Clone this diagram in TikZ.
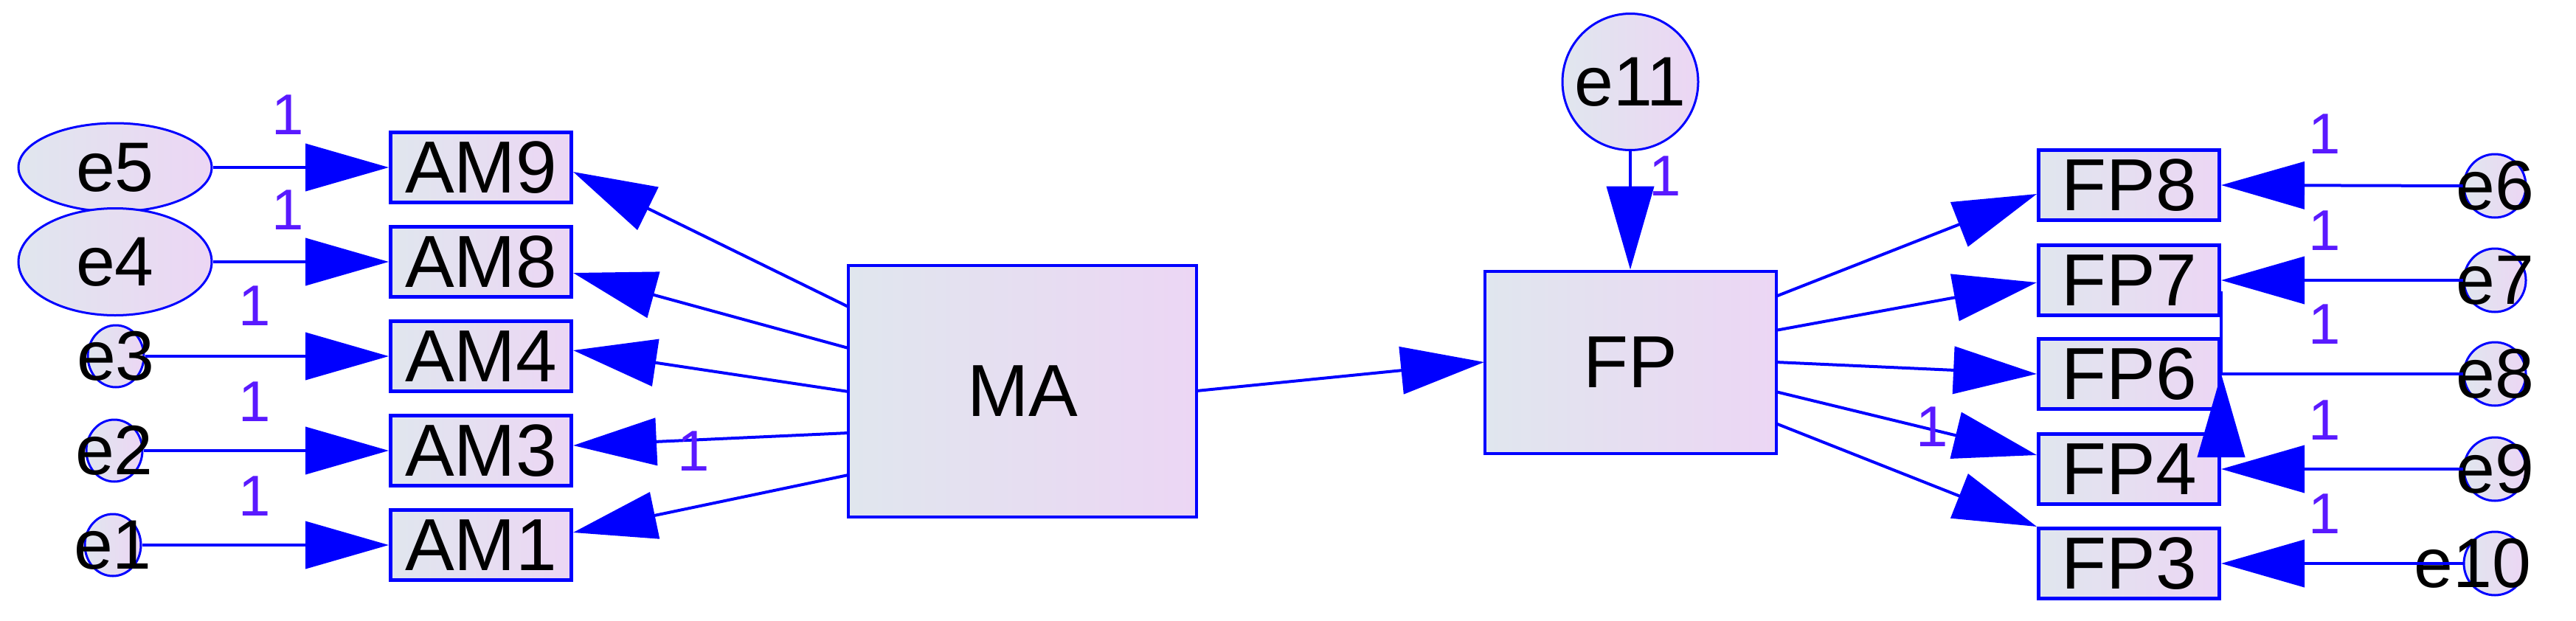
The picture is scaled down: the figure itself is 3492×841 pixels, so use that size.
\documentclass[tikz,border=0pt]{standalone}
\usepackage{fontspec}
\setmainfont{Liberation Sans}
\usetikzlibrary{arrows.meta,shapes.geometric}
\definecolor{boxL}{HTML}{E0E6EE}
\definecolor{boxR}{HTML}{ECD6F4}
\definecolor{lbl}{rgb}{0.35,0.1,1}
\begin{document}
\begin{tikzpicture}[x=1pt,y=-1pt,
  obs/.style={draw=blue,line width=5pt,left color=boxL,right color=boxR,minimum width=245pt,minimum height=95pt,inner sep=0pt,font=\fontsize{100}{100}\selectfont},
  big/.style={draw=blue,line width=4pt,left color=boxL,right color=boxR,inner sep=0pt,font=\fontsize{100}{100}\selectfont},
  err/.style={ellipse,draw=blue,line width=3pt,left color=boxL,right color=boxR,inner sep=0pt},
  etxt/.style={font=\fontsize{95}{95}\selectfont,inner sep=0pt},
  one/.style={text=lbl,font=\fontsize{78}{78}\selectfont,inner sep=0pt},
  arr/.style={draw=blue,line width=4pt,-{Triangle[length=113pt,width=64pt]}}]
\useasboundingbox (0,0) rectangle (3492,841);
% left observed
\node[obs] (AM9) at (652,227) {AM9};
\node[obs] (AM8) at (652,355) {AM8};
\node[obs] (AM4) at (652,483) {AM4};
\node[obs] (AM3) at (652,611) {AM3};
\node[obs] (AM1) at (652,739) {AM1};
% left errors
\node[err,minimum width=262pt,minimum height=120pt] (e5) at (156,227) {};
\node[err,minimum width=262pt,minimum height=145pt] (e4) at (156,355) {};
\node[err,minimum width=76pt,minimum height=84pt] (e3) at (157,483) {};
\node[err,minimum width=76pt,minimum height=84pt] (e2) at (155,611) {};
\node[err,minimum width=76pt,minimum height=84pt] (e1) at (153,739) {};
\node[etxt] (t5) at (e5) {e5};
\node[etxt] (t4) at (e4) {e4};
\node[etxt] (t3) at (e3) {e3};
\node[etxt] (t2) at (e2) {e2};
\node[etxt] (t1) at (e1) {e1};
% latent
\node[big,minimum width=472pt,minimum height=341pt] (MA) at (1386,530) {MA};
\node[big,minimum width=395pt,minimum height=247pt] (FP) at (2210,491) {FP};
\node[err,minimum width=184pt,minimum height=185pt] (e11) at (2210,111) {};
\node[etxt] (t11) at (e11) {e11};
% right observed
\node[obs] (FP8) at (2886,251) {FP8};
\node[obs] (FP7) at (2886,380) {FP7};
\node[obs] (FP6) at (2886,507) {FP6};
\node[obs] (FP4) at (2886,636) {FP4};
\node[obs] (FP3) at (2886,764) {FP3};
\node[err,minimum width=84pt,minimum height=86pt] (e6) at (3382,252) {};
\node[err,minimum width=84pt,minimum height=86pt] (e7) at (3382,380) {};
\node[err,minimum width=84pt,minimum height=86pt] (e8) at (3382,507) {};
\node[err,minimum width=84pt,minimum height=86pt] (e9) at (3382,636) {};
\node[err,minimum width=84pt,minimum height=86pt] (e10) at (3382,764) {};
\node[etxt] (t6) at (e6) {e6};
\node[etxt] (t7) at (e7) {e7};
\node[etxt] (t8) at (e8) {e8};
\node[etxt] (t9) at (e9) {e9};
\node[etxt] (t10) at (3352,764) {e10};
% error arrows
\draw[arr] (e5.east) -- (AM9.west);
\draw[arr] (e4.east) -- (AM8.west);
\draw[arr] (e3.east) -- (AM4.west);
\draw[arr] (e2.east) -- (AM3.west);
\draw[arr] (e1.east) -- (AM1.west);
\draw[arr] (e6.west) -- (FP8.east);
\draw[arr] (e7.west) -- (FP7.east);
\draw[arr] (e8.west) -- (FP8.east |- e8.west) -- (FP6.east);
\draw[arr] (e9.west) -- (FP4.east);
\draw[arr] (e10.west) -- (FP3.east);
\draw[arr] (e11.south) -- (FP.north);
% loadings
\coordinate (m9) at (1150,416);
\coordinate (m8) at (1150,472);
\coordinate (m4) at (1150,531);
\coordinate (m3) at (1150,587);
\coordinate (m1) at (1150,644);
\draw[arr] (m9) -- (AM9.east |- 0,233);
\draw[arr] (m8) -- (AM8.east |- 0,370);
\draw[arr] (m4) -- (AM4.east |- 0,475);
\draw[arr] (m3) -- (AM3.east |- 0,604);
\draw[arr] (m1) -- (AM1.east |- 0,722);
\coordinate (f8) at (2407,402);
\coordinate (f7) at (2407,448);
\coordinate (f6) at (2407,491);
\coordinate (f4) at (2407,531);
\coordinate (f3) at (2407,574);
\draw[arr] (f8) -- (FP8.west |- 0,263);
\draw[arr] (f7) -- (FP7.west |- 0,383);
\draw[arr] (f6) -- (FP6.west |- 0,507);
\draw[arr] (f4) -- (FP4.west |- 0,617);
\draw[arr] (f3) -- (FP3.north west);
\coordinate (mr) at (1622,530);
\coordinate (fl) at (2012,491);
\draw[arr] (mr) -- (fl);
% labels "1"
\node[one] (l5) at (390,156) {1};
\node[one] (l4) at (390,285) {1};
\node[one] (l3) at (345,415) {1};
\node[one] (l2) at (345,545) {1};
\node[one] (l1) at (345,673) {1};
\node[one] (lam3) at (940,612) {1};
\node[one] (l11) at (2257,239) {1};
\node[one] (l6) at (3151,182) {1};
\node[one] (l7) at (3151,313) {1};
\node[one] (l8) at (3151,440) {1};
\node[one] (l9) at (3151,570) {1};
\node[one] (l10) at (3151,697) {1};
\node[one] (lfp4) at (2619,579) {1};
\end{tikzpicture}
\end{document}
